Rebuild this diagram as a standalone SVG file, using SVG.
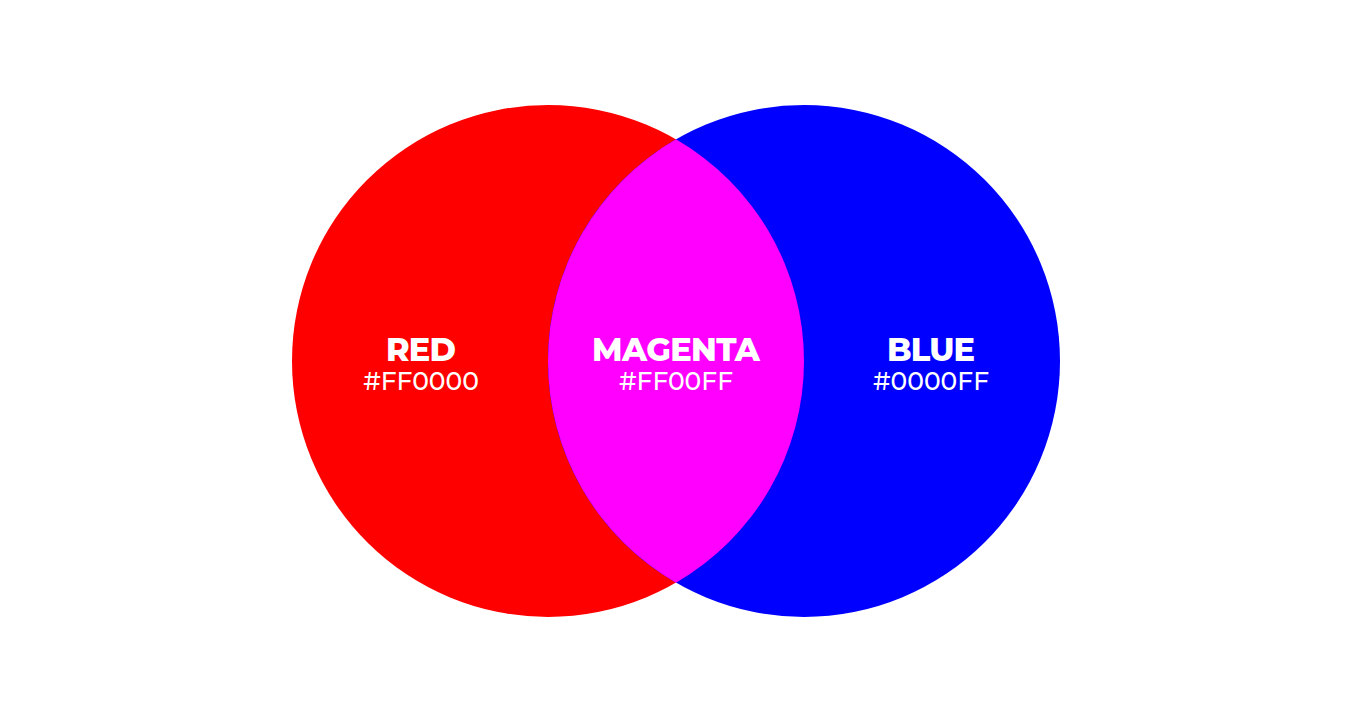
<svg xmlns="http://www.w3.org/2000/svg" width="1352" height="726" viewBox="0 0 1352 726">
<style>
.t{font-family:"Montserrat","Open Sans","Liberation Sans",sans-serif;font-weight:800;font-size:32px;fill:#fff;text-anchor:middle}
.h{font-family:"Montserrat","Open Sans","Liberation Sans",sans-serif;font-weight:500;font-size:25px;fill:#fff;text-anchor:middle}
</style>
<rect width="1352" height="726" fill="#fff"/>
<g id="red"><circle cx="548" cy="361" r="256" fill="#ff0000"/></g>
<g id="blue"><circle cx="804" cy="361" r="256" fill="#0000ff"/></g>
<g id="magenta"><path d="M676 139.3 A256 256 0 0 1 676 582.7 A256 256 0 0 1 676 139.3 Z" fill="#ff00ff"/></g>
<g id="labels">
<text class="t" x="421" y="361" textLength="70">RED</text>
<text class="h" x="421" y="390">#FF0000</text>
<text class="t" x="676" y="361" textLength="168">MAGENTA</text>
<text class="h" x="676" y="390">#FF00FF</text>
<text class="t" x="931" y="361" textLength="88">BLUE</text>
<text class="h" x="931" y="390">#0000FF</text>
</g>
<g id="connectors"/>
</svg>
